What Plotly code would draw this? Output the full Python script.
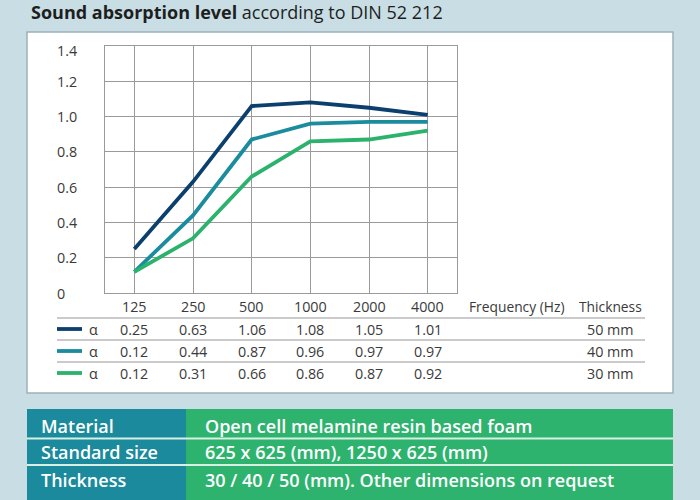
import plotly.graph_objects as go

freqs = ["125", "250", "500", "1000", "2000", "4000"]
alpha_50 = [0.25, 0.63, 1.06, 1.08, 1.05, 1.01]
alpha_40 = [0.12, 0.44, 0.87, 0.96, 0.97, 0.97]
alpha_30 = [0.12, 0.31, 0.66, 0.86, 0.87, 0.92]
thickness_labels = ["50 mm", "40 mm", "30 mm"]
y_ticks = [0, 0.2, 0.4, 0.6, 0.8, 1.0, 1.2, 1.4]
y_tick_text = ["0", "0.2", "0.4", "0.6", "0.8", "1.0", "1.2", "1.4"]
info_keys = ["Material", "Standard size", "Thickness"]
info_vals = ["Open cell melamine resin based foam",
             "625 x 625 (mm), 1250 x 625 (mm)",
             "30 / 40 / 50 (mm). Other dimensions on request"]

colors = ["#0b3f6e", "#1a8c9e", "#2bb26c"]
series = [alpha_50, alpha_40, alpha_30]

W, H = 700, 500
def px(x): return x / W
def py(y): return 1 - y / H

FONT = "Open Sans"
TXT = "#3a3a3a"
FS = 14.3

fig = go.Figure()
for vals, c in zip(series, colors):
    fig.add_trace(go.Scatter(x=freqs, y=vals, mode="lines",
                             line=dict(color=c, width=3.8), showlegend=False,
                             hoverinfo="skip"))

shapes = []
annotations = []

# white panel
shapes.append(dict(type="rect", xref="paper", yref="paper", layer="below",
                   x0=px(27), x1=px(673), y0=py(393), y1=py(32),
                   fillcolor="white", line=dict(color="#9fb0b6", width=1.5)))

# bottom info table
shapes.append(dict(type="rect", xref="paper", yref="paper", layer="below",
                   x0=px(27), x1=px(186), y0=py(500), y1=py(409),
                   fillcolor="#1a8a9c", line=dict(width=0)))
shapes.append(dict(type="rect", xref="paper", yref="paper", layer="below",
                   x0=px(186), x1=px(673), y0=py(500), y1=py(409),
                   fillcolor="#2db36e", line=dict(width=0)))
for yy in [438.5, 465]:
    shapes.append(dict(type="line", xref="paper", yref="paper", layer="above",
                       x0=px(27), x1=px(673), y0=py(yy), y1=py(yy),
                       line=dict(color="#d8efe3", width=2)))
row_y = [426, 452, 480]
for k, v, yy in zip(info_keys, info_vals, row_y):
    annotations.append(dict(text=k, xref="paper", yref="paper", x=px(39), y=py(yy),
                            xanchor="left", yanchor="middle", showarrow=False,
                            font=dict(family=FONT, size=18, color="white", weight=600)))
    annotations.append(dict(text=v, xref="paper", yref="paper", x=px(203), y=py(yy),
                            xanchor="left", yanchor="middle", showarrow=False,
                            font=dict(family=FONT, size=18, color="white", weight=600)))

# title
annotations.append(dict(text="<b>Sound absorption level</b> according to DIN 52 212",
                        xref="paper", yref="paper", x=px(29), y=py(12),
                        xanchor="left", yanchor="middle", showarrow=False,
                        font=dict(family=FONT, size=18, color="#1e1e1e")))

# y tick labels
for v, t in zip(y_ticks, y_tick_text):
    annotations.append(dict(text=t, xref="paper", yref="y", x=px(55), y=v,
                            xanchor="left", yanchor="middle", showarrow=False,
                            yshift=-5 if v > 1.3 else 0,
                            font=dict(family=FONT, size=FS, color=TXT)))

# header row of data table (category positions by index)
hdr_y = py(306)
for i, f in enumerate(freqs):
    annotations.append(dict(text=f, xref="x", yref="paper", x=i, y=hdr_y,
                            xanchor="center", yanchor="middle", showarrow=False,
                            font=dict(family=FONT, size=FS, color=TXT)))
annotations.append(dict(text="Frequency (Hz)", xref="paper", yref="paper", x=px(517), y=hdr_y,
                        xanchor="center", yanchor="middle", showarrow=False,
                        font=dict(family=FONT, size=13.8, color=TXT)))
annotations.append(dict(text="Thickness", xref="paper", yref="paper", x=px(644), y=hdr_y,
                        xanchor="right", yanchor="middle", showarrow=False,
                        font=dict(family=FONT, size=13.8, color=TXT)))

# table separator lines
for yy in [318, 340, 362]:
    shapes.append(dict(type="line", xref="paper", yref="paper",
                       x0=px(57), x1=px(645), y0=py(yy), y1=py(yy),
                       line=dict(color="#b8b8b8", width=1.5)))

rows_y = [329, 351, 373]
for vals, c, th, yy in zip(series, colors, thickness_labels, rows_y):
    shapes.append(dict(type="line", xref="paper", yref="paper",
                       x0=px(57), x1=px(82), y0=py(yy), y1=py(yy),
                       line=dict(color=c, width=3.8)))
    annotations.append(dict(text="α", xref="paper", yref="paper", x=px(93), y=py(yy),
                            xanchor="center", yanchor="middle", showarrow=False,
                            font=dict(family=FONT, size=FS, color=TXT)))
    for i, v in enumerate(vals):
        annotations.append(dict(text=f"{v:.2f}", xref="x", yref="paper", x=i, y=py(yy),
                                xanchor="center", yanchor="middle", showarrow=False,
                                font=dict(family=FONT, size=FS, color=TXT)))
    annotations.append(dict(text=th, xref="paper", yref="paper", x=px(636), y=py(yy),
                            xanchor="right", yanchor="middle", showarrow=False,
                            font=dict(family=FONT, size=FS, color=TXT)))

fig.update_layout(
    width=W, height=H,
    margin=dict(l=0, r=0, t=0, b=0),
    paper_bgcolor="#c8dee4",
    plot_bgcolor="white",
    shapes=shapes,
    annotations=annotations,
    xaxis=dict(domain=[px(105), px(457)], type="category", range=[-0.5, 5.5],
               showgrid=True, gridcolor="#9a9a9a", gridwidth=1,
               showline=True, linecolor="#9a9a9a", linewidth=1, mirror=True,
               showticklabels=False, ticks="", zeroline=False, fixedrange=True),
    yaxis=dict(domain=[py(293), py(46)], range=[0, 1.4],
               tickvals=y_ticks, showgrid=True, gridcolor="#9a9a9a", gridwidth=1,
               showline=True, linecolor="#9a9a9a", linewidth=1, mirror=True,
               showticklabels=False, ticks="", zeroline=False, fixedrange=True),
    font=dict(family=FONT),
)

fig.write_html("out.html")
